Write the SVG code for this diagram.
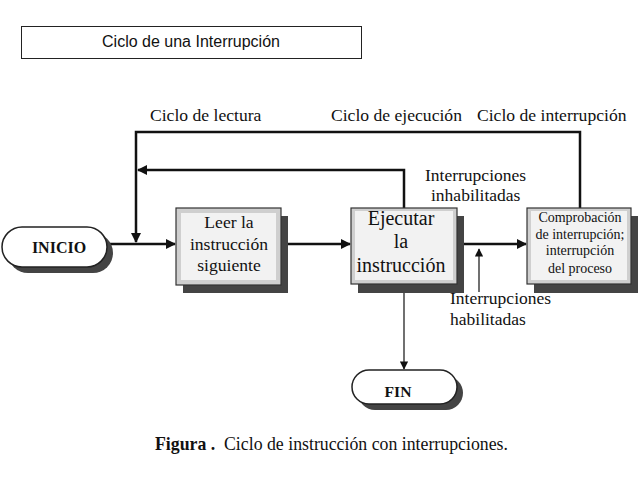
<svg xmlns="http://www.w3.org/2000/svg" width="638" height="479" viewBox="0 0 638 479">
<defs>
<style>
.t{font-family:"Liberation Serif","Times New Roman",serif;fill:#111}
.s{font-family:"Liberation Sans",Arial,sans-serif;fill:#111}
.c{stroke:#111;stroke-width:2.5;fill:none}
.thin{stroke:#111;stroke-width:1.2;fill:none}
.sh{fill:#444}
.outer{fill:#cfcfcf;stroke:#333;stroke-width:1.2}
.inner{fill:#f2f2f2}
.term{fill:#fff;stroke:#222;stroke-width:1.5}
</style>
<marker id="ah" viewBox="0 0 10 10" refX="9" refY="5" markerWidth="4" markerHeight="4" orient="auto" markerUnits="strokeWidth"><path d="M0,0L10,5L0,10z" fill="#111"/></marker>
<marker id="ahs" viewBox="0 0 10 10" refX="9" refY="5" markerWidth="7" markerHeight="7" orient="auto" markerUnits="strokeWidth"><path d="M0,0L10,5L0,10z" fill="#111"/></marker>
</defs>
<rect width="638" height="479" fill="#fff"/>
<g id="title">
<rect x="21.5" y="26.5" width="340" height="32" fill="#fff" stroke="#222" stroke-width="1"/>
<text class="s" x="191" y="47" font-size="16" text-anchor="middle">Ciclo de una Interrupción</text>
</g>
<g id="labels">
<text class="t" x="150" y="121" font-size="17.6">Ciclo de lectura</text>
<text class="t" x="331" y="121" font-size="17.6">Ciclo de ejecución</text>
<text class="t" x="477" y="121" font-size="17.6">Ciclo de interrupción</text>
<text class="t" x="425" y="181" font-size="17.5">Interrupciones</text>
<text class="t" x="431" y="201" font-size="17.5">inhabilitadas</text>
<text class="t" x="450" y="304" font-size="17.5">Interrupciones</text>
<text class="t" x="450" y="325" font-size="17.5">habilitadas</text>
</g>
<g id="connectors">
<polyline class="c" points="580,208 580,132 136,132 136,242" marker-end="url(#ah)"/>
<polyline class="c" points="404,208 404,170 138,170" marker-end="url(#ah)"/>
<line class="c" x1="107" y1="244" x2="175" y2="244" marker-end="url(#ah)"/>
<line class="c" x1="281" y1="244" x2="350" y2="244" marker-end="url(#ah)"/>
<line class="c" x1="457" y1="244" x2="526" y2="244" marker-end="url(#ah)"/>
<line class="thin" x1="404" y1="284" x2="404" y2="369" marker-end="url(#ahs)"/>
<line class="thin" x1="479" y1="292" x2="479" y2="249" marker-end="url(#ahs)"/>
</g>
<g id="inicio">
<rect class="sh" x="8" y="233" width="105" height="40" rx="20"/>
<rect class="term" x="2" y="227" width="105" height="40" rx="20"/>
<text class="t" x="59" y="253" font-size="16" font-weight="bold" text-anchor="middle">INICIO</text>
</g>
<g id="leer">
<rect class="sh" x="183" y="216" width="105" height="77"/>
<rect class="outer" x="176" y="208" width="105" height="77"/>
<rect class="inner" x="181" y="213" width="95" height="67"/>
<text class="t" x="229" y="228" font-size="17.6" text-anchor="middle">Leer la</text>
<text class="t" x="229" y="250" font-size="17.6" text-anchor="middle">instrucción</text>
<text class="t" x="229" y="271" font-size="17.6" text-anchor="middle">siguiente</text>
</g>
<g id="ejecutar">
<rect class="sh" x="358" y="216" width="106" height="77"/>
<rect class="outer" x="351" y="208" width="106" height="76"/>
<rect class="inner" x="355" y="211" width="98" height="69"/>
<text class="t" x="401" y="225" font-size="20" text-anchor="middle">Ejecutar</text>
<text class="t" x="401" y="248" font-size="20" text-anchor="middle">la</text>
<text class="t" x="401" y="272" font-size="20" text-anchor="middle">instrucción</text>
</g>
<g id="comprobacion">
<rect class="sh" x="534" y="216" width="106" height="77"/>
<rect class="outer" x="527" y="208" width="104" height="76"/>
<rect class="inner" x="531" y="211" width="96" height="69"/>
<text class="t" x="580" y="222" font-size="14" text-anchor="middle">Comprobación</text>
<text class="t" x="580" y="239" font-size="14" text-anchor="middle">de interrupción;</text>
<text class="t" x="580" y="255" font-size="14" text-anchor="middle">interrupción</text>
<text class="t" x="580" y="273" font-size="14" text-anchor="middle">del proceso</text>
</g>
<g id="fin">
<rect class="sh" x="358" y="376" width="105" height="34" rx="17"/>
<rect class="term" x="352" y="370" width="105" height="34" rx="17"/>
<text class="t" x="398" y="397" font-size="15.6" font-weight="bold" text-anchor="middle">FIN</text>
</g>
<g id="caption">
<text class="t" y="450" font-size="17.8"><tspan x="155" font-weight="bold">Figura .</tspan><tspan x="224">Ciclo de instrucción con interrupciones.</tspan></text>
</g>
</svg>
